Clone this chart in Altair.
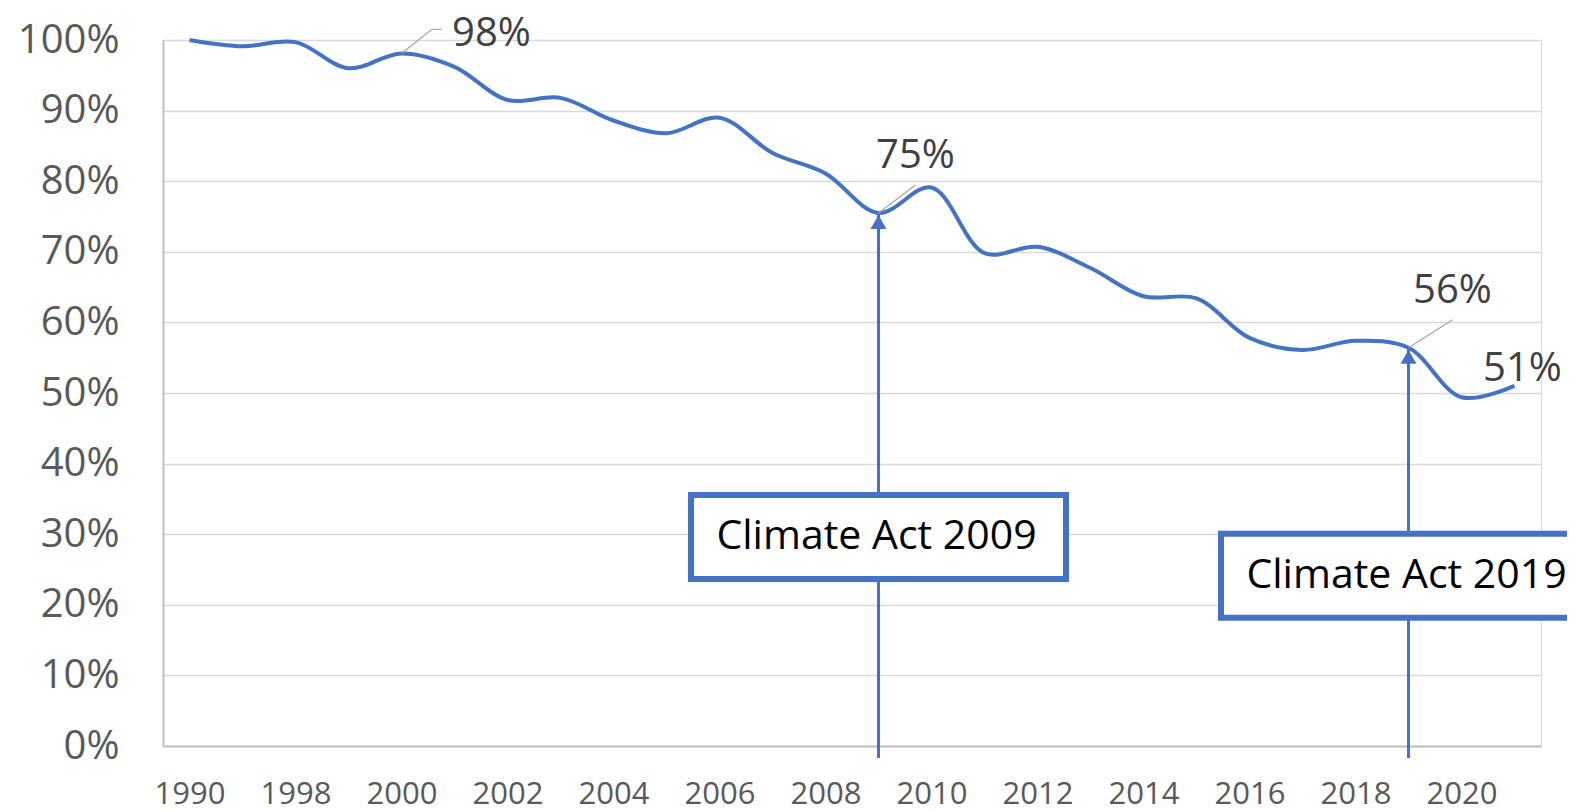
import altair as alt
import pandas as pd

# ---- data ----
years = ["1990", "1997", "1998", "1999", "2000", "2001", "2002", "2003", "2004",
         "2005", "2006", "2007", "2008", "2009", "2010", "2011", "2012", "2013",
         "2014", "2015", "2016", "2017", "2018", "2019", "2020", "2021"]
values = [100.0, 99.1, 99.7, 96.0, 98.1, 96.2, 91.5, 91.8, 88.6, 86.8, 89.0, 84.0,
          81.1, 75.5, 79.1, 69.8, 70.7, 67.7, 63.7, 63.4, 57.8, 56.1, 57.4, 56.4,
          49.4, 51.0]
tick_labels = ["1990", "1998", "2000", "2002", "2004", "2006", "2008", "2010",
               "2012", "2014", "2016", "2018", "2020"]
y_ticks = [0, 10, 20, 30, 40, 50, 60, 70, 80, 90, 100]

label_years = ["2000", "2009", "2019", "2021"]
label_texts = ["98%", "75%", "56%", "51%"]

act_years = ["2009", "2019"]
act_texts = ["Climate Act 2009", "Climate Act 2019"]
act_box_levels = [29.6, 24.1]

BLUE = "#4472C4"
FONT = "Open Sans"

df = pd.DataFrame({"year": years, "value": values})
val_of = dict(zip(years, values))

XSCALE = alt.Scale(type="point", domain=years, padding=0.5)


def xe(**kw):
    return alt.X("year:O", sort=years, scale=XSCALE, **kw)


x_enc = xe(axis=alt.Axis(values=tick_labels, title=None, labelAngle=0,
                         labelFontSize=31, labelColor="#595959", labelFont=FONT,
                         labelPadding=33, ticks=False, domainColor="#bfbfbf",
                         domainWidth=2, grid=False, labelOverlap=False))
y_enc = alt.Y("value:Q", scale=alt.Scale(domain=[0, 100], nice=False),
              axis=alt.Axis(values=y_ticks, title=None, labelExpr="datum.value + '%'",
                            labelFontSize=40, labelColor="#595959", labelFont=FONT,
                            labelPadding=44, ticks=False, domainColor="#bfbfbf",
                            domainWidth=2, grid=True, gridColor="#d9d9d9",
                            gridWidth=1.5))

line = alt.Chart(df).mark_line(color=BLUE, strokeWidth=4,
                               interpolate="catmull-rom").encode(x=x_enc, y=y_enc)

# arrows
arr_df = pd.DataFrame({"year": act_years, "value": [val_of[y] for y in act_years],
                       "zero": [0, 0]})
shaft = alt.Chart(arr_df).mark_rule(color=BLUE, strokeWidth=3, yOffset=12).encode(
    x=xe(), y="zero:Q", y2="value:Q")
head = alt.Chart(arr_df).mark_point(shape="triangle-up", filled=True, opacity=1,
                                    color=BLUE, size=256, yOffset=9).encode(
    x=xe(), y="value:Q")

# boxes
box_df = pd.DataFrame({"year": act_years, "level": act_box_levels, "text": act_texts})
box = alt.Chart(box_df).mark_point(
    shape="M-1,-0.224L1,-0.224L1,0.224L-1,0.224Z", size=375 * 375,
    filled=False, fill="white", fillOpacity=1, stroke=BLUE, strokeWidth=6,
    opacity=1).encode(x=xe(), y="level:Q")
box_text = alt.Chart(box_df).mark_text(fontSize=41, font=FONT, color="black",
                                       align="center", baseline="middle", dx=-2).encode(
    x=xe(), y="level:Q", text="text:N")

# data labels with leader lines
label_offsets = {"2000": (90, -19), "2009": (37, -57), "2019": (44, -57), "2021": (8, -17)}
leaders = {"2000": [(0, 0, 30, -24), (30, -24, 40, -24)],
           "2009": [(0, 0, 37, -28)],
           "2019": [(0, 0, 44, -28)]}

layers = [line, shaft, head]
for yr, txt in zip(label_years, label_texts):
    ldf = pd.DataFrame({"year": [yr], "value": [val_of[yr]], "text": [txt]})
    for (x0, y0, x1, y1) in leaders.get(yr, []):
        layers.append(alt.Chart(ldf).mark_rule(
            color="#a6a6a6", strokeWidth=1.2, xOffset=x0, yOffset=y0,
            x2Offset=x1, y2Offset=y1).encode(
            x=xe(), x2="year", y="value:Q", y2="value"))
    dx, dy = label_offsets[yr]
    layers.append(alt.Chart(ldf).mark_text(
        fontSize=40, font=FONT, color="#404040", dx=dx, dy=dy,
        align="center", baseline="middle").encode(
        x=xe(), y="value:Q", text="text:N"))
layers += [box, box_text]

chart = alt.layer(*layers).properties(
    width=1378, height=706,
    autosize=alt.AutoSizeParams(type="none"),
    padding={"left": 155, "top": 32, "right": 26, "bottom": 66},
).configure_view(stroke=None).configure(background="white")

chart.save("out.html", embed_options={"renderer": "svg", "actions": False})
